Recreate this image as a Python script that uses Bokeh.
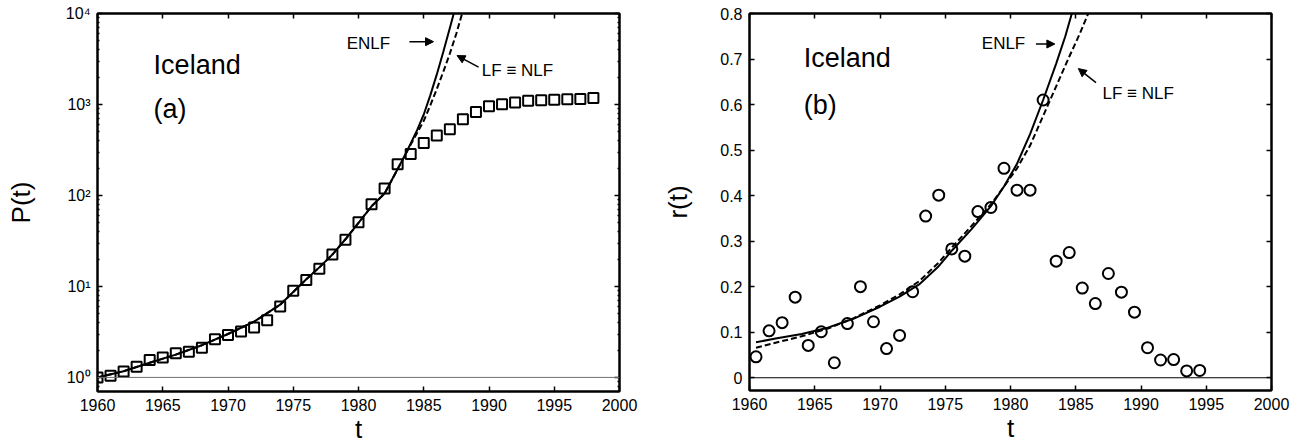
from bokeh.plotting import figure
from bokeh.layouts import row
from bokeh.models import (Range1d, FixedTicker, LinearAxis, LogAxis, Span,
                          Arrow, NormalHead, Label, CustomLabelingPolicy)
from bokeh.embed import file_html
from bokeh.resources import INLINE

# ---------------- data ----------------
p_years = list(range(1960, 1999))
p_values = [1.0, 1.04, 1.16, 1.31, 1.55, 1.66, 1.84, 1.92, 2.12, 2.62,
            2.93, 3.19, 3.53, 4.24, 6.0, 8.94, 11.8, 15.6, 22.5, 32.6,
            50.8, 79.8, 119, 220, 285, 378, 457, 535, 688, 828,
            957, 1008, 1052, 1096, 1112, 1130, 1140, 1150, 1178]

enlf_p_years = [1960, 1962, 1964, 1966, 1968, 1970, 1972, 1974, 1976, 1977,
                1978, 1979, 1980, 1981, 1982, 1983, 1983.5, 1984, 1984.5,
                1985, 1985.5, 1986, 1986.5, 1987, 1987.3, 1987.45]
enlf_p_values = [1.0, 1.17, 1.45, 1.78, 2.26, 3.0, 4.1, 6.3, 12.0, 16.2,
                 22.4, 33.0, 50.0, 76.0, 105.0, 195.0, 266.0, 372.0, 525.0,
                 776.0, 1260.0, 2140.0, 3800.0, 6920.0, 10000.0, 12000.0]

lf_p_years = [1960, 1962, 1964, 1966, 1968, 1970, 1972, 1974, 1976, 1977,
              1978, 1979, 1980, 1981, 1982, 1983, 1983.5, 1984, 1984.5,
              1985, 1985.5, 1986, 1986.5, 1987, 1987.5, 1987.94, 1988.1]
lf_p_values = [1.0, 1.17, 1.45, 1.78, 2.26, 3.0, 4.1, 6.3, 12.0, 16.2,
               22.4, 33.0, 50.0, 76.0, 105.0, 195.0, 265.0, 362.0, 490.0,
               661.0, 977.0, 1480.0, 2290.0, 3630.0, 6030.0, 10000.0, 12000.0]

r_years = [1960.5, 1961.5, 1962.5, 1963.5, 1964.5, 1965.5, 1966.5, 1967.5,
           1968.5, 1969.5, 1970.5, 1971.5, 1972.5, 1973.5, 1974.5, 1975.5,
           1976.5, 1977.5, 1978.5, 1979.5, 1980.5, 1981.5, 1982.5, 1983.5,
           1984.5, 1985.5, 1986.5, 1987.5, 1988.5, 1989.5, 1990.5, 1991.5,
           1992.5, 1993.5, 1994.5]
r_values = [0.046, 0.103, 0.121, 0.177, 0.071, 0.101, 0.033, 0.119, 0.200,
            0.123, 0.064, 0.093, 0.189, 0.355, 0.401, 0.283, 0.267, 0.365,
            0.374, 0.460, 0.412, 0.412, 0.610, 0.256, 0.275, 0.197, 0.163,
            0.229, 0.188, 0.144, 0.066, 0.039, 0.040, 0.015, 0.016]

enlf_r_years = [1960.5, 1962, 1964, 1966, 1968, 1970, 1971.5, 1973, 1974.5,
                1975.5, 1977, 1978.5, 1979.5, 1980.5, 1981.5, 1982.5, 1983.5,
                1984.2, 1984.8]
enlf_r_values = [0.078, 0.086, 0.096, 0.110, 0.130, 0.156, 0.178, 0.205,
                 0.245, 0.279, 0.326, 0.377, 0.420, 0.470, 0.535, 0.610,
                 0.690, 0.750, 0.810]

lf_r_years = [1960.5, 1962, 1964, 1966, 1968, 1970, 1971.5, 1973, 1974.5,
              1975.5, 1977, 1978.5, 1979.5, 1980.5, 1981.5, 1982.5, 1983.5,
              1984.5, 1985.3, 1986.1]
lf_r_values = [0.066, 0.077, 0.091, 0.108, 0.131, 0.159, 0.183, 0.212,
               0.253, 0.286, 0.333, 0.381, 0.420, 0.460, 0.510, 0.575,
               0.640, 0.705, 0.755, 0.810]

x_ticks = [1960, 1965, 1970, 1975, 1980, 1985, 1990, 1995, 2000]
p_ticks = [1, 10, 100, 1000, 10000]
p_tick_labels = ["10⁰", "10¹", "10²", "10³", "10⁴"]
r_ticks = [0, 0.1, 0.2, 0.3, 0.4, 0.5, 0.6, 0.7, 0.8]
r_tick_labels = ["0", "0.1", "0.2", "0.3", "0.4", "0.5", "0.6", "0.7", "0.8"]

FONT = "Liberation Sans"


def hide_labels():
    return CustomLabelingPolicy(code="""
        const ids = [...indices];
        for (const i of ids) { indices.unset(i); }
        return indices;
    """)


def style_axis(ax, labels=True, minor=False):
    ax.axis_line_width = 2
    ax.axis_line_color = "black"
    ax.major_tick_in = 5
    ax.major_tick_out = 0
    ax.major_tick_line_width = 1.5
    ax.major_tick_line_color = "black"
    if minor:
        ax.minor_tick_in = 2
        ax.minor_tick_out = 0
        ax.minor_tick_line_color = "black"
        ax.minor_tick_line_width = 1.5
    else:
        ax.minor_tick_line_color = None
    ax.major_label_text_font = FONT
    ax.major_label_text_color = "black"
    if labels:
        ax.major_label_text_font_size = "16px"
        ax.major_label_standoff = 7
    else:
        ax.major_label_text_font_size = "1px"
        ax.major_label_standoff = 0
        ax.major_label_policy = hide_labels()
    ax.axis_label_text_font = FONT
    ax.axis_label_text_font_style = "normal"
    ax.axis_label_text_font_size = "26px"
    ax.axis_label_text_color = "black"


def base_fig(**kw):
    f = figure(output_backend="svg", toolbar_location=None, **kw)
    f.xgrid.grid_line_color = None
    f.ygrid.grid_line_color = None
    f.outline_line_color = "black"
    f.outline_line_width = 2
    f.background_fill_color = "white"
    f.border_fill_color = "white"
    return f


# ---------------- left panel: P(t) ----------------
p1 = base_fig(y_axis_type="log", x_range=Range1d(1960, 2000),
              y_range=Range1d(0.7, 10000), frame_width=522, frame_height=378,
              min_border_left=97, min_border_right=41, min_border_top=13,
              min_border_bottom=54)

minor_p = [0.8, 0.9] + [d * k for d in [1, 10, 100, 1000] for k in range(2, 10)]

p1.xaxis.ticker = FixedTicker(ticks=x_ticks)
p1.yaxis.ticker = FixedTicker(ticks=p_ticks, minor_ticks=minor_p)
p1.yaxis.major_label_overrides = dict(zip(p_ticks, p_tick_labels))
p1.xaxis.axis_label = "t"
p1.yaxis.axis_label = "P(t)"
style_axis(p1.xaxis[0])
style_axis(p1.yaxis[0], minor=True)
p1.xaxis.axis_label_standoff = 0
p1.yaxis.axis_label_standoff = 27

top1 = LinearAxis(ticker=FixedTicker(ticks=x_ticks))
style_axis(top1, labels=False)
p1.add_layout(top1, "above")
right1 = LogAxis(ticker=FixedTicker(ticks=p_ticks, minor_ticks=minor_p))
style_axis(right1, labels=False, minor=True)
p1.add_layout(right1, "right")

p1.add_layout(Span(location=1, dimension="width", line_color="#707070", line_width=1))

p1.line(enlf_p_years, enlf_p_values, line_color="black", line_width=2)
p1.line(lf_p_years, lf_p_values, line_color="black", line_width=2, line_dash="6 3")
p1.scatter(p_years, p_values, marker="square", size=10, fill_color=None,
           line_color="black", line_width=2)

p1.add_layout(Label(x=1964.3, y=2710, text="Iceland", text_font=FONT,
                    text_font_size="27px", text_baseline="middle", text_color="black"))
p1.add_layout(Label(x=1964.3, y=887, text="(a)", text_font=FONT,
                    text_font_size="27px", text_baseline="middle", text_color="black"))
p1.add_layout(Label(x=1979.1, y=4720, text="ENLF", text_font=FONT,
                    text_font_size="17px", text_baseline="middle", text_color="black"))
p1.add_layout(Label(x=1989.45, y=2388, text="LF ≡ NLF", text_font=FONT,
                    text_font_size="17px", text_baseline="middle", text_color="black"))
p1.add_layout(Arrow(x_start=1983.9, y_start=4900, x_end=1985.75, y_end=4900,
                    line_width=1.5, line_color="black",
                    end=NormalHead(size=8, fill_color="black", line_color="black")))
p1.add_layout(Arrow(x_start=1989.2, y_start=2575, x_end=1987.55, y_end=3450,
                    line_width=1.5, line_color="black",
                    end=NormalHead(size=8, fill_color="black", line_color="black")))

# ---------------- right panel: r(t) ----------------
p2 = base_fig(x_range=Range1d(1960, 2000), y_range=Range1d(-0.028, 0.8),
              frame_width=522, frame_height=377,
              min_border_left=88, min_border_right=46, min_border_top=7,
              min_border_bottom=61)
p2.xaxis.ticker = FixedTicker(ticks=x_ticks)
p2.yaxis.ticker = FixedTicker(ticks=r_ticks)
p2.yaxis.major_label_overrides = dict(zip(r_ticks, r_tick_labels))
p2.xaxis.axis_label = "t"
p2.yaxis.axis_label = "r(t)"
style_axis(p2.xaxis[0])
style_axis(p2.yaxis[0])
p2.xaxis.axis_label_standoff = 0
p2.yaxis.axis_label_standoff = 24

top2 = LinearAxis(ticker=FixedTicker(ticks=x_ticks))
style_axis(top2, labels=False)
p2.add_layout(top2, "above")
right2 = LinearAxis(ticker=FixedTicker(ticks=r_ticks))
style_axis(right2, labels=False)
p2.add_layout(right2, "right")

p2.add_layout(Span(location=0, dimension="width", line_color="black", line_width=1))

p2.line(enlf_r_years, enlf_r_values, line_color="black", line_width=2)
p2.line(lf_r_years, lf_r_values, line_color="black", line_width=2, line_dash="6 3")
p2.scatter(r_years, r_values, marker="circle", size=11, fill_color=None,
           line_color="black", line_width=2)

p2.add_layout(Label(x=1964.15, y=0.702, text="Iceland", text_font=FONT,
                    text_font_size="27px", text_baseline="middle", text_color="black"))
p2.add_layout(Label(x=1964.15, y=0.598, text="(b)", text_font=FONT,
                    text_font_size="27px", text_baseline="middle", text_color="black"))
p2.add_layout(Label(x=1977.8, y=0.734, text="ENLF", text_font=FONT,
                    text_font_size="17px", text_baseline="middle", text_color="black"))
p2.add_layout(Label(x=1987.05, y=0.624, text="LF ≡ NLF", text_font=FONT,
                    text_font_size="17px", text_baseline="middle", text_color="black"))
p2.add_layout(Arrow(x_start=1981.95, y_start=0.733, x_end=1983.4, y_end=0.733,
                    line_width=1.5, line_color="black",
                    end=NormalHead(size=8, fill_color="black", line_color="black")))
p2.add_layout(Arrow(x_start=1986.55, y_start=0.648, x_end=1985.2, y_end=0.679,
                    line_width=1.5, line_color="black",
                    end=NormalHead(size=8, fill_color="black", line_color="black")))

layout = row(p1, p2, spacing=0)
open("out.html", "w").write(file_html(layout, INLINE))
